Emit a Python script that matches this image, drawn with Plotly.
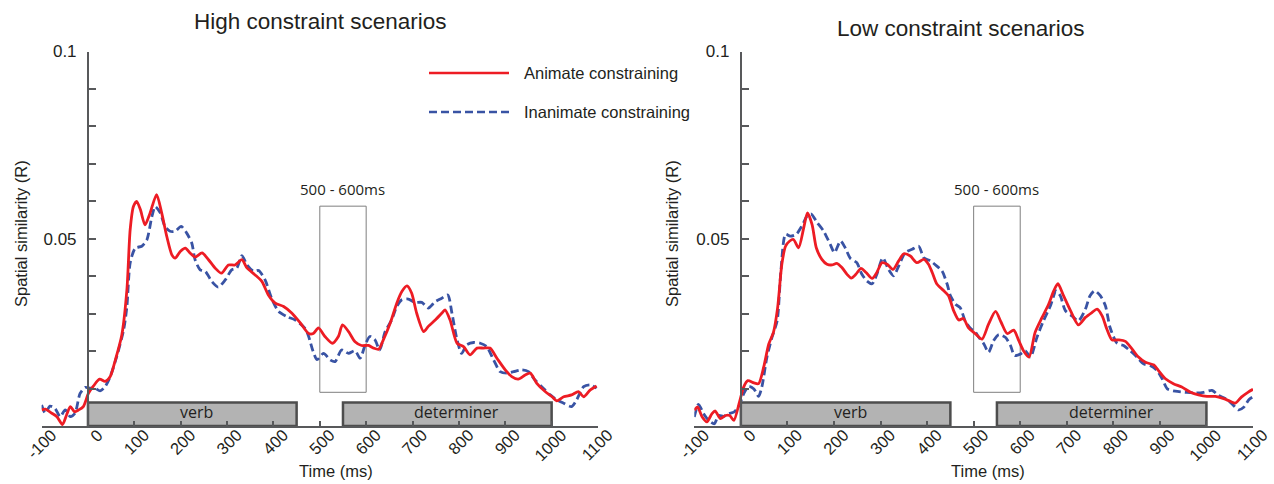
import plotly.graph_objects as go

# ---------------- data ----------------
# High constraint scenarios
hc_anim_t = [-100,-92,-78,-67,-55,-46,-38,-29,-20,-10,1,12,25,37,48,59,73,84,91,98,105,113,123,134,148,159,170,181,188,199,210,220,231,246,260,274,288,303,317,332,343,360,375,389,404,422,440,458,476,486,497,511,527,540,549,562,576,590,605,616,627,637,652,666,677,688,698,709,724,734,749,763,770,781,796,810,824,839,853,867,882,900,914,928,943,954,968,986,1001,1011,1026,1043,1058,1069,1083,1097]
hc_anim_r = [0.0043,0.0045,0.0034,0.0025,0.0004,0.0030,0.0052,0.0038,0.0043,0.0052,0.0087,0.0107,0.0125,0.0119,0.0132,0.0176,0.0243,0.0364,0.0524,0.0586,0.0600,0.0578,0.0537,0.0569,0.0618,0.0569,0.0506,0.0457,0.0448,0.0466,0.0475,0.0462,0.0451,0.0462,0.0444,0.0422,0.0408,0.0430,0.0430,0.0444,0.0422,0.0404,0.0386,0.0350,0.0328,0.0319,0.0301,0.0275,0.0247,0.0247,0.0262,0.0239,0.0221,0.0239,0.0270,0.0252,0.0225,0.0215,0.0215,0.0208,0.0205,0.0230,0.0275,0.0328,0.0359,0.0374,0.0355,0.0301,0.0252,0.0266,0.0283,0.0301,0.0310,0.0283,0.0221,0.0212,0.0190,0.0208,0.0208,0.0208,0.0181,0.0150,0.0132,0.0125,0.0136,0.0141,0.0114,0.0092,0.0078,0.0067,0.0078,0.0083,0.0092,0.0078,0.0096,0.0107]

hc_inan_t = [-100,-92,-82,-71,-60,-49,-38,-28,-17,-6,5,15,26,37,48,62,77,84,91,102,116,127,138,145,156,166,177,188,201,213,224,231,242,253,267,281,296,310,321,332,343,357,368,382,396,411,429,447,468,476,484,494,508,523,533,547,562,576,587,598,608,619,629,641,655,666,677,691,705,720,734,749,763,776,785,796,806,817,832,846,860,875,889,903,918,936,950,964,982,997,1011,1026,1043,1054,1069,1083,1097]
hc_inan_r = [0.0056,0.0034,0.0053,0.0047,0.0025,0.0043,0.0025,0.0034,0.0087,0.0103,0.0101,0.0101,0.0094,0.0105,0.0132,0.0185,0.0257,0.0319,0.0435,0.0475,0.0480,0.0497,0.0560,0.0586,0.0569,0.0533,0.0520,0.0520,0.0533,0.0515,0.0488,0.0444,0.0417,0.0413,0.0386,0.0371,0.0390,0.0417,0.0422,0.0455,0.0430,0.0413,0.0415,0.0390,0.0341,0.0306,0.0292,0.0283,0.0261,0.0239,0.0205,0.0177,0.0194,0.0176,0.0172,0.0203,0.0194,0.0201,0.0181,0.0217,0.0239,0.0230,0.0203,0.0252,0.0283,0.0319,0.0337,0.0339,0.0330,0.0330,0.0315,0.0332,0.0341,0.0350,0.0301,0.0230,0.0194,0.0217,0.0223,0.0221,0.0212,0.0176,0.0145,0.0141,0.0145,0.0150,0.0145,0.0123,0.0101,0.0083,0.0070,0.0061,0.0052,0.0070,0.0105,0.0110,0.0101]

# Low constraint scenarios
lc_anim_t = [-100,-93,-83,-73,-62,-55,-44,-33,-24,-15,-3,6,15,28,38,49,60,70,79,88,96,105,113,124,135,143,153,162,174,185,196,206,217,228,237,247,258,269,282,292,303,314,327,339,350,364,378,393,403,411,421,436,446,457,468,478,489,504,518,532,547,559,572,586,597,607,619,632,647,661,672,681,693,708,725,740,754,765,776,786,797,812,826,840,854,869,887,897,912,929,947,966,983,1001,1019,1037,1051,1062,1075,1089,1100]
lc_anim_r = [0.0042,0.0051,0.0024,0.0011,0.0033,0.0040,0.0020,0.0028,0.0028,0.0015,0.0064,0.0104,0.0121,0.0115,0.0113,0.0157,0.0219,0.0250,0.0316,0.0432,0.0480,0.0494,0.0498,0.0476,0.0529,0.0569,0.0538,0.0476,0.0445,0.0432,0.0430,0.0434,0.0423,0.0405,0.0395,0.0405,0.0421,0.0410,0.0394,0.0410,0.0436,0.0432,0.0418,0.0441,0.0460,0.0454,0.0436,0.0445,0.0432,0.0410,0.0379,0.0361,0.0348,0.0308,0.0283,0.0287,0.0262,0.0246,0.0232,0.0272,0.0306,0.0277,0.0247,0.0256,0.0228,0.0201,0.0184,0.0250,0.0290,0.0325,0.0361,0.0380,0.0348,0.0308,0.0270,0.0290,0.0303,0.0312,0.0294,0.0259,0.0230,0.0230,0.0226,0.0206,0.0184,0.0170,0.0163,0.0148,0.0126,0.0113,0.0104,0.0090,0.0083,0.0079,0.0079,0.0073,0.0066,0.0061,0.0077,0.0090,0.0098]

lc_inan_t = [-100,-91,-80,-69,-57,-48,-37,-26,-15,-5,6,17,28,38,45,56,67,78,86,96,106,119,131,142,151,164,178,192,201,214,224,235,249,260,271,282,292,305,317,328,339,353,368,382,393,407,421,432,443,450,461,471,482,493,504,511,522,532,543,554,568,579,588,600,611,622,636,650,665,677,686,697,711,725,740,750,760,772,783,793,808,822,836,851,865,880,894,905,916,933,955,976,994,1012,1026,1041,1055,1069,1080,1091,1100]
lc_inan_r = [0.0024,0.0058,0.0033,0.0015,0.0006,0.0028,0.0026,0.0033,0.0037,0.0051,0.0086,0.0106,0.0099,0.0079,0.0104,0.0184,0.0237,0.0281,0.0414,0.0512,0.0507,0.0512,0.0534,0.0560,0.0566,0.0543,0.0520,0.0485,0.0463,0.0494,0.0476,0.0448,0.0436,0.0405,0.0387,0.0380,0.0405,0.0449,0.0418,0.0401,0.0427,0.0463,0.0472,0.0480,0.0449,0.0441,0.0427,0.0414,0.0379,0.0348,0.0325,0.0316,0.0280,0.0261,0.0250,0.0237,0.0219,0.0197,0.0228,0.0244,0.0237,0.0215,0.0188,0.0192,0.0201,0.0184,0.0237,0.0281,0.0321,0.0361,0.0348,0.0308,0.0294,0.0281,0.0312,0.0348,0.0361,0.0348,0.0321,0.0263,0.0221,0.0215,0.0201,0.0184,0.0166,0.0161,0.0148,0.0126,0.0099,0.0093,0.0090,0.0088,0.0090,0.0095,0.0082,0.0073,0.0059,0.0043,0.0050,0.0070,0.0078]

panel_titles = ["High constraint scenarios", "Low constraint scenarios"]
series_names = ["Animate constraining", "Inanimate constraining"]
x_tick_vals = [-100, 0, 100, 200, 300, 400, 500, 600, 700, 800, 900, 1000, 1100]
x_tick_text = [str(v) for v in x_tick_vals]
y_tick_vals = [0.01, 0.02, 0.03, 0.04, 0.05, 0.06, 0.07, 0.08, 0.09, 0.10]
y_tick_text = ["", "", "", "", "0.05", "", "", "", "", "0.1"]
x_range = [-100, 1100]
y_range = [0, 0.1]
word_names = ["verb", "determiner"]
word_starts = [0, 550]
word_ends = [450, 1000]
word_label_x = [235, 795]
word_box_top = 0.0063
window_start, window_end = 500, 600
window_low, window_high = 0.009, 0.0587
window_label = "500 - 600ms"

# ---------------- style ----------------
W, H = 1274, 484
RED = "#ed1c24"
BLUE = "#3953a4"
AXC = "#58595b"
TXT = "#231f20"
SANS = "Liberation Sans, Arial, sans-serif"
MYR = "Open Sans, sans-serif"

x_domains = [[41.6 / W, 598 / W], [694.3 / W, 1253 / W]]
y_domain = [(H - 426) / H, (H - 51.5) / H]

fig = go.Figure()

panels = [
    (hc_anim_t, hc_anim_r, hc_inan_t, hc_inan_r),
    (lc_anim_t, lc_anim_r, lc_inan_t, lc_inan_r),
]

shapes = []
annotations = []
for i, (at, ar, it, ir) in enumerate(panels):
    xa = "x" if i == 0 else "x2"
    ya = "y" if i == 0 else "y2"
    fig.add_trace(go.Scatter(x=it, y=ir, mode="lines", name=series_names[1], showlegend=False,
                             line=dict(color=BLUE, width=2.8, dash="8px,4px", shape="spline", smoothing=0.7),
                             xaxis=xa, yaxis=ya))
    fig.add_trace(go.Scatter(x=at, y=ar, mode="lines", name=series_names[0], showlegend=False,
                             line=dict(color=RED, width=2.8, shape="spline", smoothing=0.7),
                             xaxis=xa, yaxis=ya))
    for nm, s, e, lx in zip(word_names, word_starts, word_ends, word_label_x):
        shapes.append(dict(type="rect", xref=xa, yref=ya, x0=s, x1=e, y0=0, y1=word_box_top,
                           fillcolor="#b3b3b3", line=dict(color="#4d4d4d", width=2.5), layer="below"))
        annotations.append(dict(xref=xa, yref=ya, x=lx, y=word_box_top * 0.6, text=nm, showarrow=False,
                                font=dict(family=MYR, size=16, color=TXT), yanchor="middle"))
    shapes.append(dict(type="rect", xref=xa, yref=ya, x0=window_start, x1=window_end,
                       y0=window_low, y1=window_high, line=dict(color="#7f7f7f", width=1), layer="below"))
    annotations.append(dict(xref=xa, yref=ya, x=(window_start + window_end) / 2, y=window_high,
                            yshift=5, text=window_label, showarrow=False, yanchor="bottom",
                            font=dict(family=MYR, size=15, color=TXT)))

    d0, d1 = x_domains[i]
    ypos = d0 + (0 - x_range[0]) / (x_range[1] - x_range[0]) * (d1 - d0)
    axis_common = dict(showgrid=False, zeroline=False, showline=True, linecolor=AXC, linewidth=2,
                       ticks="inside", tickcolor=AXC, tickwidth=1.5, automargin=False)
    fig.layout["xaxis" if i == 0 else "xaxis2"] = dict(
        **axis_common, domain=x_domains[i], range=x_range, anchor=ya, ticklen=5,
        tickmode="array", tickvals=x_tick_vals, ticktext=x_tick_text, tickangle=-45,
        ticklabelstandoff=-9, ticklabelshift=10,
        tickfont=dict(family=SANS, size=16.5, color=TXT))
    fig.layout["yaxis" if i == 0 else "yaxis2"] = dict(
        **axis_common, domain=y_domain, range=y_range, anchor="free", position=ypos, ticklen=7,
        tickmode="array", tickvals=y_tick_vals, ticktext=y_tick_text, ticklabelstandoff=7,
        tickfont=dict(family=SANS, size=17, color=TXT))

    # panel title, axis titles
    title_x = [320, 961][i]
    title_y = [22, 29][i]
    annotations.append(dict(xref="paper", yref="paper", x=title_x / W, y=1 - title_y / H,
                            text=panel_titles[i], showarrow=False, xanchor="center", yanchor="middle",
                            font=dict(family=SANS, size=22.5, color=TXT)))
    annotations.append(dict(xref="paper", yref="paper", x=[336, 988][i] / W, y=1 - 471 / H,
                            text="Time (ms)", showarrow=False, xanchor="center", yanchor="middle",
                            font=dict(family=SANS, size=16.5, color=TXT)))
    annotations.append(dict(xref="paper", yref="paper", x=[21, 672][i] / W, y=1 - 234 / H,
                            text="Spatial similarity (R)", showarrow=False, textangle=-90,
                            xanchor="center", yanchor="middle",
                            font=dict(family=SANS, size=16.5, color=TXT)))

# custom legend
for nm, col, dash, ly in [(series_names[0], RED, "solid", 73), (series_names[1], BLUE, "8px,4px", 112)]:
    shapes.append(dict(type="line", xref="paper", yref="paper", x0=429 / W, x1=509 / W,
                       y0=1 - ly / H, y1=1 - ly / H, line=dict(color=col, width=2.5, dash=dash)))
    annotations.append(dict(xref="paper", yref="paper", x=522 / W, y=1 - ly / H, text=nm,
                            showarrow=False, xanchor="left", yanchor="middle",
                            font=dict(family=SANS, size=16.5, color=TXT)))

fig.update_layout(width=W, height=H, margin=dict(l=0, r=0, t=0, b=0, autoexpand=False),
                  paper_bgcolor="white", plot_bgcolor="white",
                  shapes=shapes, annotations=annotations, showlegend=False)

fig.write_html("out.html")
